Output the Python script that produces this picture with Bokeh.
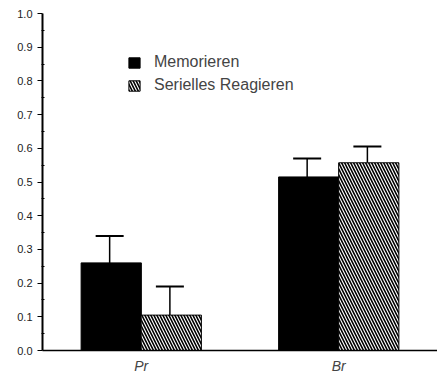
from bokeh.plotting import figure
from bokeh.models import (ColumnDataSource, FactorRange, Range1d, FixedTicker, Whisker,
                          TeeHead, Legend, LegendItem, CustomJSTickFormatter)
from bokeh.transform import dodge
from bokeh.embed import file_html
from bokeh.resources import INLINE

categories = ["Pr", "Br"]
memorieren = [0.26, 0.515]
memorieren_upper = [0.34, 0.57]
seriell = [0.105, 0.557]
seriell_upper = [0.19, 0.605]
y_ticks = [0.0, 0.1, 0.2, 0.3, 0.4, 0.5, 0.6, 0.7, 0.8, 0.9, 1.0]
y_minor = [0.05, 0.15, 0.25, 0.35, 0.45, 0.55, 0.65, 0.75, 0.85, 0.95]

src = ColumnDataSource(data=dict(cat=categories, mem=memorieren, mem_up=memorieren_upper,
                                 ser=seriell, ser_up=seriell_upper))

p = figure(width=437, height=376, x_range=FactorRange(*categories, range_padding=0),
           y_range=Range1d(0, 1.0), output_backend="svg", toolbar_location=None,
           min_border_left=42, min_border_right=0, min_border_top=13, min_border_bottom=24)
p.outline_line_color = None
p.xgrid.grid_line_color = None
p.ygrid.grid_line_color = None
p.background_fill_color = "white"
p.border_fill_color = "white"

r1 = p.vbar(x=dodge("cat", -0.152, range=p.x_range), top="mem", width=0.305, source=src,
            fill_color="black", line_color="black")
r2 = p.vbar(x=dodge("cat", 0.152, range=p.x_range), top="ser", width=0.305, source=src,
            fill_color="white", line_color="black", line_width=1,
            hatch_pattern="left_diagonal_line", hatch_color="black", hatch_scale=6, hatch_weight=1.6)

w1 = Whisker(base=dodge("cat", -0.16, range=p.x_range), lower="mem", upper="mem_up", source=src,
             upper_head=TeeHead(size=28, line_width=2, line_color="black"), lower_head=None,
             line_width=1.5, line_color="black")
w2 = Whisker(base=dodge("cat", 0.145, range=p.x_range), lower="ser", upper="ser_up", source=src,
             upper_head=TeeHead(size=28, line_width=2, line_color="black"), lower_head=None,
             line_width=1.5, line_color="black")
p.add_layout(w1)
p.add_layout(w2)

# y axis
ya = p.yaxis[0]
ya.ticker = FixedTicker(ticks=y_ticks, minor_ticks=y_minor)
ya.formatter = CustomJSTickFormatter(code="return tick.toFixed(1);")
ya.axis_line_width = 2
ya.axis_line_color = "black"
ya.major_tick_out = 5
ya.major_tick_in = 0
ya.major_tick_line_width = 1.2
ya.minor_tick_in = 2
ya.minor_tick_out = 1
ya.minor_tick_line_width = 1.2
ya.major_label_text_font = "Liberation Sans"
ya.major_label_text_font_size = "11px"
ya.major_label_text_color = "#222222"
ya.major_label_standoff = 5

# x axis
xa = p.xaxis[0]
xa.axis_line_width = 1.5
xa.axis_line_color = "black"
xa.major_tick_line_color = None
xa.minor_tick_line_color = None
xa.major_tick_out = 0
xa.major_tick_in = 0
xa.minor_tick_out = 0
xa.minor_tick_in = 0
xa.major_label_text_font = "Liberation Sans"
xa.major_label_text_font_style = "italic"
xa.major_label_text_font_size = "14px"
xa.major_label_standoff = 7

legend = Legend(items=[LegendItem(label="Memorieren", renderers=[r1]),
                       LegendItem(label="Serielles Reagieren", renderers=[r2])],
                location=(85, 256), orientation="vertical")
legend.border_line_color = None
legend.background_fill_alpha = 0
legend.padding = 0
legend.margin = 0
legend.spacing = 5
legend.glyph_width = 14
legend.glyph_height = 13
legend.label_standoff = 13
legend.label_text_font = "Liberation Sans"
legend.label_text_font_size = "16px"
legend.label_height = 13
p.add_layout(legend)

open("out.html", "w").write(file_html(p, INLINE))
